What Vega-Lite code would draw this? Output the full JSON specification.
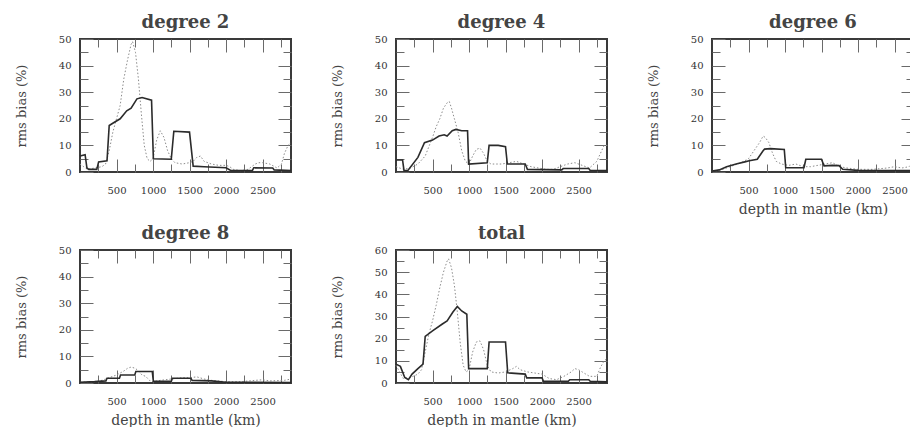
{
  "$schema": "https://vega.github.io/schema/vega-lite/v6.json",
  "padding": {"left": 14, "top": 13, "right": 0, "bottom": 0},
  "config": {
    "font": "DejaVu Serif",
    "view": {"stroke": "#3a3a3a", "strokeWidth": 2},
    "axis": {"domain": false, "grid": false, "format": "d", "tickColor": "#6a6a6a", "tickWidth": 1, "labelFont": "DejaVu Serif", "labelFontSize": 10, "labelColor": "#333", "titleFont": "DejaVu Serif", "titleFontSize": 13, "titleFontWeight": "normal", "titleColor": "#444"},
    "axisX": {"titleFontSize": 14},
    "title": {"font": "DejaVu Serif", "fontSize": 18, "fontWeight": "bold", "color": "#444", "offset": 2}
  },
  "datasets": {
    "d2s": [{"depth":0,"bias":6},{"depth":70,"bias":6.5},{"depth":95,"bias":1.5},{"depth":120,"bias":1},{"depth":230,"bias":1},{"depth":255,"bias":3.8},{"depth":370,"bias":4.2},{"depth":400,"bias":17.5},{"depth":460,"bias":18.5},{"depth":550,"bias":20},{"depth":640,"bias":23},{"depth":700,"bias":24},{"depth":780,"bias":27.5},{"depth":850,"bias":28},{"depth":980,"bias":27},{"depth":1005,"bias":5},{"depth":1250,"bias":4.8},{"depth":1285,"bias":15.3},{"depth":1500,"bias":15},{"depth":1550,"bias":2.2},{"depth":1700,"bias":2},{"depth":1850,"bias":1.8},{"depth":2000,"bias":1.6},{"depth":2070,"bias":0.5},{"depth":2360,"bias":0.5},{"depth":2380,"bias":1.6},{"depth":2640,"bias":1.5},{"depth":2660,"bias":0.8},{"depth":2890,"bias":0.5}],
    "d2d": [{"depth":0,"bias":3},{"depth":50,"bias":2},{"depth":100,"bias":1},{"depth":200,"bias":1.5},{"depth":300,"bias":2},{"depth":350,"bias":3},{"depth":400,"bias":8},{"depth":450,"bias":15},{"depth":500,"bias":20},{"depth":550,"bias":25},{"depth":600,"bias":35},{"depth":650,"bias":42},{"depth":700,"bias":48},{"depth":720,"bias":49},{"depth":760,"bias":45},{"depth":800,"bias":35},{"depth":840,"bias":22},{"depth":880,"bias":10},{"depth":920,"bias":5},{"depth":960,"bias":4},{"depth":1000,"bias":5},{"depth":1050,"bias":12},{"depth":1100,"bias":15.5},{"depth":1150,"bias":13},{"depth":1200,"bias":8},{"depth":1250,"bias":5},{"depth":1300,"bias":3.5},{"depth":1400,"bias":3},{"depth":1500,"bias":3.5},{"depth":1550,"bias":4},{"depth":1600,"bias":5.5},{"depth":1650,"bias":6},{"depth":1700,"bias":4},{"depth":1800,"bias":3},{"depth":1900,"bias":2.5},{"depth":2000,"bias":2.5},{"depth":2050,"bias":2},{"depth":2100,"bias":1},{"depth":2200,"bias":0.5},{"depth":2300,"bias":1},{"depth":2400,"bias":3},{"depth":2450,"bias":3.5},{"depth":2500,"bias":3.5},{"depth":2600,"bias":3},{"depth":2700,"bias":1.5},{"depth":2760,"bias":3},{"depth":2800,"bias":7},{"depth":2850,"bias":10},{"depth":2890,"bias":11}],
    "d4s": [{"depth":0,"bias":4.5},{"depth":90,"bias":4.5},{"depth":110,"bias":0.5},{"depth":160,"bias":0.5},{"depth":300,"bias":5.5},{"depth":390,"bias":11},{"depth":500,"bias":12},{"depth":590,"bias":13.5},{"depth":660,"bias":14},{"depth":700,"bias":13.5},{"depth":770,"bias":15.5},{"depth":820,"bias":16},{"depth":900,"bias":15.5},{"depth":980,"bias":15.5},{"depth":995,"bias":3},{"depth":1250,"bias":3.5},{"depth":1275,"bias":10},{"depth":1400,"bias":10},{"depth":1500,"bias":9.5},{"depth":1525,"bias":3},{"depth":1770,"bias":3},{"depth":1800,"bias":1},{"depth":2270,"bias":0.8},{"depth":2290,"bias":1.3},{"depth":2640,"bias":1.3},{"depth":2660,"bias":0.6},{"depth":2890,"bias":0.5}],
    "d4d": [{"depth":0,"bias":2},{"depth":100,"bias":1},{"depth":200,"bias":1.5},{"depth":300,"bias":3},{"depth":400,"bias":6},{"depth":500,"bias":13},{"depth":550,"bias":17},{"depth":600,"bias":20},{"depth":650,"bias":24},{"depth":700,"bias":26},{"depth":730,"bias":26.5},{"depth":760,"bias":24},{"depth":800,"bias":20},{"depth":850,"bias":15},{"depth":900,"bias":8},{"depth":950,"bias":4},{"depth":1000,"bias":3},{"depth":1050,"bias":6},{"depth":1100,"bias":8.5},{"depth":1150,"bias":9},{"depth":1200,"bias":7},{"depth":1250,"bias":4},{"depth":1300,"bias":3},{"depth":1450,"bias":3},{"depth":1550,"bias":3.5},{"depth":1650,"bias":4},{"depth":1750,"bias":3},{"depth":1850,"bias":2},{"depth":1950,"bias":1.5},{"depth":2050,"bias":1},{"depth":2150,"bias":1},{"depth":2250,"bias":2},{"depth":2350,"bias":3},{"depth":2450,"bias":3.5},{"depth":2550,"bias":2.5},{"depth":2650,"bias":1.5},{"depth":2750,"bias":4},{"depth":2850,"bias":10},{"depth":2890,"bias":10}],
    "d6s": [{"depth":0,"bias":0.4},{"depth":100,"bias":0.8},{"depth":200,"bias":2},{"depth":330,"bias":3},{"depth":450,"bias":3.8},{"depth":510,"bias":4.2},{"depth":620,"bias":4.8},{"depth":700,"bias":8},{"depth":720,"bias":8.6},{"depth":800,"bias":8.8},{"depth":990,"bias":8.5},{"depth":1010,"bias":1.6},{"depth":1260,"bias":1.6},{"depth":1285,"bias":4.8},{"depth":1500,"bias":4.8},{"depth":1535,"bias":2.3},{"depth":1650,"bias":2.5},{"depth":1740,"bias":2.4},{"depth":1790,"bias":1},{"depth":2000,"bias":0.6},{"depth":2760,"bias":0.5},{"depth":2890,"bias":0.5}],
    "d6d": [{"depth":0,"bias":0.5},{"depth":100,"bias":0.5},{"depth":200,"bias":1.5},{"depth":300,"bias":2.5},{"depth":400,"bias":3.5},{"depth":500,"bias":5},{"depth":550,"bias":7},{"depth":600,"bias":9},{"depth":650,"bias":11},{"depth":700,"bias":13.5},{"depth":730,"bias":13},{"depth":780,"bias":11},{"depth":830,"bias":7},{"depth":880,"bias":4},{"depth":950,"bias":3},{"depth":1050,"bias":2.5},{"depth":1150,"bias":3},{"depth":1250,"bias":2},{"depth":1350,"bias":2},{"depth":1450,"bias":2.5},{"depth":1550,"bias":3},{"depth":1650,"bias":3.5},{"depth":1750,"bias":2},{"depth":1850,"bias":1.5},{"depth":2000,"bias":1},{"depth":2200,"bias":1},{"depth":2400,"bias":1.5},{"depth":2500,"bias":2},{"depth":2600,"bias":1.5},{"depth":2700,"bias":2},{"depth":2760,"bias":4},{"depth":2800,"bias":5},{"depth":2890,"bias":6}],
    "d8s": [{"depth":0,"bias":0.3},{"depth":200,"bias":0.5},{"depth":355,"bias":0.8},{"depth":370,"bias":1.8},{"depth":540,"bias":1.8},{"depth":555,"bias":3},{"depth":750,"bias":3},{"depth":765,"bias":4.3},{"depth":990,"bias":4.3},{"depth":1005,"bias":0.6},{"depth":1250,"bias":0.6},{"depth":1265,"bias":1.8},{"depth":1520,"bias":1.8},{"depth":1535,"bias":1},{"depth":1800,"bias":0.8},{"depth":2000,"bias":0.3},{"depth":2890,"bias":0.2}],
    "d8d": [{"depth":0,"bias":0.3},{"depth":200,"bias":0.5},{"depth":300,"bias":1},{"depth":400,"bias":2},{"depth":500,"bias":3},{"depth":600,"bias":4.5},{"depth":650,"bias":5.5},{"depth":700,"bias":6},{"depth":760,"bias":5.5},{"depth":800,"bias":4.5},{"depth":850,"bias":3},{"depth":900,"bias":2.5},{"depth":950,"bias":1},{"depth":1000,"bias":0.5},{"depth":1100,"bias":1},{"depth":1250,"bias":1.5},{"depth":1400,"bias":2},{"depth":1500,"bias":2},{"depth":1600,"bias":2.3},{"depth":1700,"bias":1.5},{"depth":1800,"bias":1},{"depth":2000,"bias":0.5},{"depth":2200,"bias":0.5},{"depth":2400,"bias":1},{"depth":2500,"bias":1.2},{"depth":2600,"bias":0.8},{"depth":2800,"bias":1},{"depth":2890,"bias":1.5}],
    "tts": [{"depth":0,"bias":8.5},{"depth":60,"bias":7.5},{"depth":120,"bias":2.5},{"depth":170,"bias":1.5},{"depth":220,"bias":4},{"depth":300,"bias":6.5},{"depth":370,"bias":8.5},{"depth":400,"bias":21},{"depth":500,"bias":23.5},{"depth":630,"bias":26.5},{"depth":700,"bias":28},{"depth":780,"bias":32},{"depth":840,"bias":34.5},{"depth":900,"bias":32.5},{"depth":970,"bias":31},{"depth":995,"bias":6.5},{"depth":1250,"bias":6.5},{"depth":1275,"bias":18.5},{"depth":1500,"bias":18.5},{"depth":1530,"bias":4.6},{"depth":1770,"bias":4},{"depth":1790,"bias":2.3},{"depth":2000,"bias":2.3},{"depth":2020,"bias":0.8},{"depth":2360,"bias":0.8},{"depth":2380,"bias":1.5},{"depth":2640,"bias":1.5},{"depth":2660,"bias":0.8},{"depth":2890,"bias":0.5}],
    "ttd": [{"depth":0,"bias":8},{"depth":50,"bias":5},{"depth":100,"bias":2},{"depth":200,"bias":2.5},{"depth":300,"bias":4},{"depth":350,"bias":6},{"depth":400,"bias":14},{"depth":450,"bias":22},{"depth":500,"bias":28},{"depth":550,"bias":35},{"depth":600,"bias":43},{"depth":650,"bias":50},{"depth":700,"bias":55},{"depth":720,"bias":56},{"depth":760,"bias":52},{"depth":800,"bias":44},{"depth":840,"bias":32},{"depth":880,"bias":18},{"depth":920,"bias":8},{"depth":960,"bias":5},{"depth":1000,"bias":6},{"depth":1050,"bias":14},{"depth":1100,"bias":18.5},{"depth":1150,"bias":19},{"depth":1200,"bias":15},{"depth":1250,"bias":8},{"depth":1300,"bias":5},{"depth":1400,"bias":4.5},{"depth":1500,"bias":5},{"depth":1600,"bias":6.5},{"depth":1650,"bias":7.5},{"depth":1700,"bias":6},{"depth":1800,"bias":5},{"depth":1900,"bias":4.5},{"depth":2000,"bias":4},{"depth":2100,"bias":2},{"depth":2200,"bias":1.5},{"depth":2300,"bias":3},{"depth":2400,"bias":5},{"depth":2450,"bias":6.5},{"depth":2500,"bias":6},{"depth":2550,"bias":5},{"depth":2650,"bias":3},{"depth":2750,"bias":3},{"depth":2800,"bias":7},{"depth":2850,"bias":10},{"depth":2890,"bias":11}]
  },
  "spacing": 7,
  "vconcat": [
    {
      "spacing": 34,
      "hconcat": [
        {
          "title": "degree 2", "width": 211, "height": 133,
          "layer": [
            {"data": {"name": "d2d"}, "mark": {"type": "line", "color": "#8c8c8c", "strokeWidth": 1, "strokeDash": [1.5, 2]},
             "encoding": {
               "x": {"field": "depth", "type": "quantitative", "scale": {"domain": [0, 2890], "nice": false, "zero": false}, "axis": {"orient": "bottom", "title": null, "values": [500,1000,1500,2000,2500], "offset": -13, "tickSize": 13, "labelPadding": 13}},
               "y": {"field": "bias", "type": "quantitative", "scale": {"domain": [0, 50], "nice": false}, "axis": {"orient": "left", "title": "rms bias (%)", "values": [0,10,20,30,40,50], "offset": -13, "tickSize": 13, "labelPadding": 9, "titlePadding": 30}}
             }},
            {"data": {"name": "d2s"}, "mark": {"type": "line", "color": "#2b2b2b", "strokeWidth": 1.6},
             "encoding": {
               "x": {"field": "depth", "type": "quantitative", "axis": {"orient": "top", "title": null, "labels": false, "values": [500,1000,1500,2000,2500], "offset": -13, "tickSize": 13}},
               "y": {"field": "bias", "type": "quantitative", "axis": {"orient": "right", "title": null, "labels": false, "values": [10,20,30,40], "offset": -13, "tickSize": 13}}
             }},
            {"data": {"name": "d2s"}, "mark": {"type": "line", "opacity": 0},
             "encoding": {
               "x": {"field": "depth", "type": "quantitative", "axis": {"orient": "bottom", "title": null, "labels": false, "values": [250,750,1250,1750,2250,2750], "offset": -8, "tickSize": 8}},
               "y": {"field": "bias", "type": "quantitative", "axis": {"orient": "left", "title": null, "labels": false, "values": [5,15,25,35,45], "offset": -8, "tickSize": 8}}
             }},
            {"data": {"name": "d2s"}, "mark": {"type": "line", "opacity": 0},
             "encoding": {
               "x": {"field": "depth", "type": "quantitative", "axis": {"orient": "top", "title": null, "labels": false, "values": [250,750,1250,1750,2250,2750], "offset": -8, "tickSize": 8}},
               "y": {"field": "bias", "type": "quantitative", "axis": {"orient": "right", "title": null, "labels": false, "values": [5,15,25,35,45], "offset": -8, "tickSize": 8}}
             }}
          ],
          "resolve": {"axis": {"x": "independent", "y": "independent"}}
        },
        {
          "title": "degree 4", "width": 211, "height": 133,
          "layer": [
            {"data": {"name": "d4d"}, "mark": {"type": "line", "color": "#8c8c8c", "strokeWidth": 1, "strokeDash": [1.5, 2]},
             "encoding": {
               "x": {"field": "depth", "type": "quantitative", "scale": {"domain": [0, 2890], "nice": false, "zero": false}, "axis": {"orient": "bottom", "title": null, "values": [500,1000,1500,2000,2500], "offset": -13, "tickSize": 13, "labelPadding": 13}},
               "y": {"field": "bias", "type": "quantitative", "scale": {"domain": [0, 50], "nice": false}, "axis": {"orient": "left", "title": "rms bias (%)", "values": [0,10,20,30,40,50], "offset": -13, "tickSize": 13, "labelPadding": 9, "titlePadding": 30}}
             }},
            {"data": {"name": "d4s"}, "mark": {"type": "line", "color": "#2b2b2b", "strokeWidth": 1.6},
             "encoding": {
               "x": {"field": "depth", "type": "quantitative", "axis": {"orient": "top", "title": null, "labels": false, "values": [500,1000,1500,2000,2500], "offset": -13, "tickSize": 13}},
               "y": {"field": "bias", "type": "quantitative", "axis": {"orient": "right", "title": null, "labels": false, "values": [10,20,30,40], "offset": -13, "tickSize": 13}}
             }},
            {"data": {"name": "d4s"}, "mark": {"type": "line", "opacity": 0},
             "encoding": {
               "x": {"field": "depth", "type": "quantitative", "axis": {"orient": "bottom", "title": null, "labels": false, "values": [250,750,1250,1750,2250,2750], "offset": -8, "tickSize": 8}},
               "y": {"field": "bias", "type": "quantitative", "axis": {"orient": "left", "title": null, "labels": false, "values": [5,15,25,35,45], "offset": -8, "tickSize": 8}}
             }},
            {"data": {"name": "d4s"}, "mark": {"type": "line", "opacity": 0},
             "encoding": {
               "x": {"field": "depth", "type": "quantitative", "axis": {"orient": "top", "title": null, "labels": false, "values": [250,750,1250,1750,2250,2750], "offset": -8, "tickSize": 8}},
               "y": {"field": "bias", "type": "quantitative", "axis": {"orient": "right", "title": null, "labels": false, "values": [5,15,25,35,45], "offset": -8, "tickSize": 8}}
             }}
          ],
          "resolve": {"axis": {"x": "independent", "y": "independent"}}
        },
        {
          "title": "degree 6", "width": 202, "height": 133,
          "transform": [{"filter": "datum.depth <= 2767"}],
          "layer": [
            {"data": {"name": "d6d"}, "transform": [{"filter": "datum.depth <= 2767"}], "mark": {"type": "line", "color": "#8c8c8c", "strokeWidth": 1, "strokeDash": [1.5, 2]},
             "encoding": {
               "x": {"field": "depth", "type": "quantitative", "scale": {"domain": [0, 2767], "nice": false, "zero": false}, "axis": {"orient": "bottom", "title": "depth in mantle (km)", "values": [500,1000,1500,2000,2500], "offset": -13, "tickSize": 13, "labelPadding": 13, "titlePadding": 7}},
               "y": {"field": "bias", "type": "quantitative", "scale": {"domain": [0, 50], "nice": false}, "axis": {"orient": "left", "title": "rms bias (%)", "values": [0,10,20,30,40,50], "offset": -13, "tickSize": 13, "labelPadding": 9, "titlePadding": 30}}
             }},
            {"data": {"name": "d6s"}, "transform": [{"filter": "datum.depth <= 2767"}], "mark": {"type": "line", "color": "#2b2b2b", "strokeWidth": 1.6},
             "encoding": {
               "x": {"field": "depth", "type": "quantitative", "axis": {"orient": "top", "title": null, "labels": false, "values": [500,1000,1500,2000,2500], "offset": -13, "tickSize": 13}},
               "y": {"field": "bias", "type": "quantitative", "axis": {"orient": "right", "title": null, "labels": false, "values": [10,20,30,40], "offset": -13, "tickSize": 13}}
             }},
            {"data": {"name": "d6s"}, "transform": [{"filter": "datum.depth <= 2767"}], "mark": {"type": "line", "opacity": 0},
             "encoding": {
               "x": {"field": "depth", "type": "quantitative", "axis": {"orient": "bottom", "title": null, "labels": false, "values": [250,750,1250,1750,2250], "offset": -8, "tickSize": 8}},
               "y": {"field": "bias", "type": "quantitative", "axis": {"orient": "left", "title": null, "labels": false, "values": [5,15,25,35,45], "offset": -8, "tickSize": 8}}
             }},
            {"data": {"name": "d6s"}, "transform": [{"filter": "datum.depth <= 2767"}], "mark": {"type": "line", "opacity": 0},
             "encoding": {
               "x": {"field": "depth", "type": "quantitative", "axis": {"orient": "top", "title": null, "labels": false, "values": [250,750,1250,1750,2250], "offset": -8, "tickSize": 8}},
               "y": {"field": "bias", "type": "quantitative", "axis": {"orient": "right", "title": null, "labels": false, "values": [5,15,25,35,45], "offset": -8, "tickSize": 8}}
             }}
          ],
          "resolve": {"axis": {"x": "independent", "y": "independent"}}
        }
      ]
    },
    {
      "spacing": 34,
      "hconcat": [
        {
          "title": "degree 8", "width": 211, "height": 133,
          "layer": [
            {"data": {"name": "d8d"}, "mark": {"type": "line", "color": "#8c8c8c", "strokeWidth": 1, "strokeDash": [1.5, 2]},
             "encoding": {
               "x": {"field": "depth", "type": "quantitative", "scale": {"domain": [0, 2890], "nice": false, "zero": false}, "axis": {"orient": "bottom", "title": "depth in mantle (km)", "values": [500,1000,1500,2000,2500], "offset": -13, "tickSize": 13, "labelPadding": 13, "titlePadding": 7}},
               "y": {"field": "bias", "type": "quantitative", "scale": {"domain": [0, 50], "nice": false}, "axis": {"orient": "left", "title": "rms bias (%)", "values": [0,10,20,30,40,50], "offset": -13, "tickSize": 13, "labelPadding": 9, "titlePadding": 30}}
             }},
            {"data": {"name": "d8s"}, "mark": {"type": "line", "color": "#2b2b2b", "strokeWidth": 1.6},
             "encoding": {
               "x": {"field": "depth", "type": "quantitative", "axis": {"orient": "top", "title": null, "labels": false, "values": [500,1000,1500,2000,2500], "offset": -13, "tickSize": 13}},
               "y": {"field": "bias", "type": "quantitative", "axis": {"orient": "right", "title": null, "labels": false, "values": [10,20,30,40], "offset": -13, "tickSize": 13}}
             }},
            {"data": {"name": "d8s"}, "mark": {"type": "line", "opacity": 0},
             "encoding": {
               "x": {"field": "depth", "type": "quantitative", "axis": {"orient": "bottom", "title": null, "labels": false, "values": [250,750,1250,1750,2250,2750], "offset": -8, "tickSize": 8}},
               "y": {"field": "bias", "type": "quantitative", "axis": {"orient": "left", "title": null, "labels": false, "values": [5,15,25,35,45], "offset": -8, "tickSize": 8}}
             }},
            {"data": {"name": "d8s"}, "mark": {"type": "line", "opacity": 0},
             "encoding": {
               "x": {"field": "depth", "type": "quantitative", "axis": {"orient": "top", "title": null, "labels": false, "values": [250,750,1250,1750,2250,2750], "offset": -8, "tickSize": 8}},
               "y": {"field": "bias", "type": "quantitative", "axis": {"orient": "right", "title": null, "labels": false, "values": [5,15,25,35,45], "offset": -8, "tickSize": 8}}
             }}
          ],
          "resolve": {"axis": {"x": "independent", "y": "independent"}}
        },
        {
          "title": "total", "width": 211, "height": 133,
          "layer": [
            {"data": {"name": "ttd"}, "mark": {"type": "line", "color": "#8c8c8c", "strokeWidth": 1, "strokeDash": [1.5, 2]},
             "encoding": {
               "x": {"field": "depth", "type": "quantitative", "scale": {"domain": [0, 2890], "nice": false, "zero": false}, "axis": {"orient": "bottom", "title": "depth in mantle (km)", "values": [500,1000,1500,2000,2500], "offset": -13, "tickSize": 13, "labelPadding": 13, "titlePadding": 7}},
               "y": {"field": "bias", "type": "quantitative", "scale": {"domain": [0, 60], "nice": false}, "axis": {"orient": "left", "title": "rms bias (%)", "values": [0,10,20,30,40,50,60], "offset": -13, "tickSize": 13, "labelPadding": 9, "titlePadding": 30}}
             }},
            {"data": {"name": "tts"}, "mark": {"type": "line", "color": "#2b2b2b", "strokeWidth": 1.6},
             "encoding": {
               "x": {"field": "depth", "type": "quantitative", "axis": {"orient": "top", "title": null, "labels": false, "values": [500,1000,1500,2000,2500], "offset": -13, "tickSize": 13}},
               "y": {"field": "bias", "type": "quantitative", "axis": {"orient": "right", "title": null, "labels": false, "values": [10,20,30,40,50], "offset": -13, "tickSize": 13}}
             }},
            {"data": {"name": "tts"}, "mark": {"type": "line", "opacity": 0},
             "encoding": {
               "x": {"field": "depth", "type": "quantitative", "axis": {"orient": "bottom", "title": null, "labels": false, "values": [250,750,1250,1750,2250,2750], "offset": -8, "tickSize": 8}},
               "y": {"field": "bias", "type": "quantitative", "axis": {"orient": "left", "title": null, "labels": false, "values": [5,15,25,35,45,55], "offset": -8, "tickSize": 8}}
             }},
            {"data": {"name": "tts"}, "mark": {"type": "line", "opacity": 0},
             "encoding": {
               "x": {"field": "depth", "type": "quantitative", "axis": {"orient": "top", "title": null, "labels": false, "values": [250,750,1250,1750,2250,2750], "offset": -8, "tickSize": 8}},
               "y": {"field": "bias", "type": "quantitative", "axis": {"orient": "right", "title": null, "labels": false, "values": [5,15,25,35,45,55], "offset": -8, "tickSize": 8}}
             }}
          ],
          "resolve": {"axis": {"x": "independent", "y": "independent"}}
        }
      ]
    }
  ]
}
